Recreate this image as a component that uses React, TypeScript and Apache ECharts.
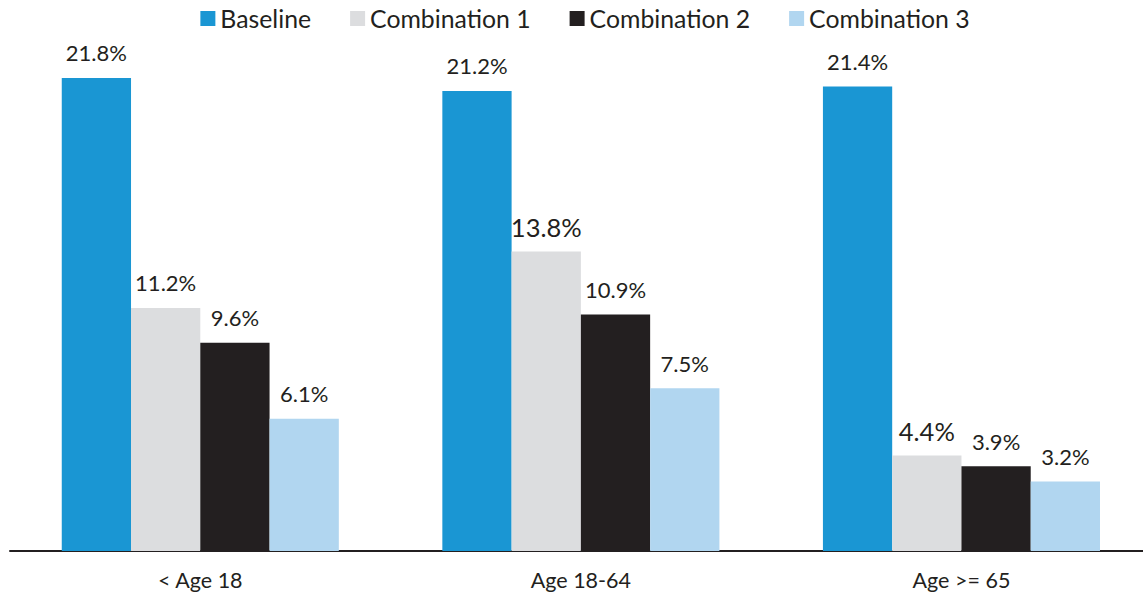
import React, { useEffect, useRef } from "react";
import * as echarts from "echarts";

const categories = ["< Age 18", "Age 18-64", "Age >= 65"];
const seriesNames = ["Baseline", "Combination 1", "Combination 2", "Combination 3"];
const baseline = [21.8, 21.2, 21.4];
const combination1 = [11.2, 13.8, 4.4];
const combination2 = [9.6, 10.9, 3.9];
const combination3 = [6.1, 7.5, 3.2];
const colors = ["#1a96d3", "#dcdddf", "#231f20", "#b1d6f0"];

export default function App() {
  const ref = useRef<HTMLDivElement>(null);
  useEffect(() => {
    if (!ref.current) return;
    const chart = echarts.init(ref.current, undefined, { renderer: "svg" });
    const data = [baseline, combination1, combination2, combination3];
    const big = (s: number, i: number) => (s === 1 && i === 1) || (s === 1 && i === 2);
    chart.setOption({
      animation: false,
      textStyle: { fontFamily: "Lato" },
      legend: {
        top: 1,
        left: "center",
        itemWidth: 15,
        itemHeight: 15,
        itemGap: 39,
        icon: "rect",
        textStyle: { fontSize: 24.8, color: "#231f20", fontFamily: "Lato" },
        data: seriesNames,
      },
      grid: { left: 10, top: 8.5, right: 18.25, height: 542.5, containLabel: false },
      xAxis: {
        type: "category",
        data: categories,
        axisLine: { lineStyle: { color: "#231f20", width: 2 } },
        axisTick: { show: false },
        axisLabel: { fontSize: 21.5, color: "#231f20", margin: 18, fontFamily: "Lato" },
      },
      yAxis: {
        type: "value",
        min: 0,
        max: 25,
        show: false,
        splitLine: { show: false },
      },
      series: seriesNames.map((name, s) => ({
        name,
        type: "bar",
        barGap: "0%",
        barCategoryGap: "27.2%",
        itemStyle: { color: colors[s] },
        data: data[s].map((v, i) => ({
          value: v,
          label: {
            show: true,
            position: "top",
            distance: big(s, i) ? 12 : 14,
            fontSize: big(s, i) ? 25.5 : 22,
            color: "#231f20",
            fontFamily: "Lato",
            formatter: (p: any) => p.value.toFixed(1) + "%",
          },
        })),
      })),
    });
    return () => chart.dispose();
  }, []);
  return (
    <div style={{ position: "absolute", left: 0, top: 0, width: 1143, height: 597, background: "#fff", overflow: "hidden" }}>
      <div ref={ref} style={{ width: 1170, height: 597 }} />
    </div>
  );
}
